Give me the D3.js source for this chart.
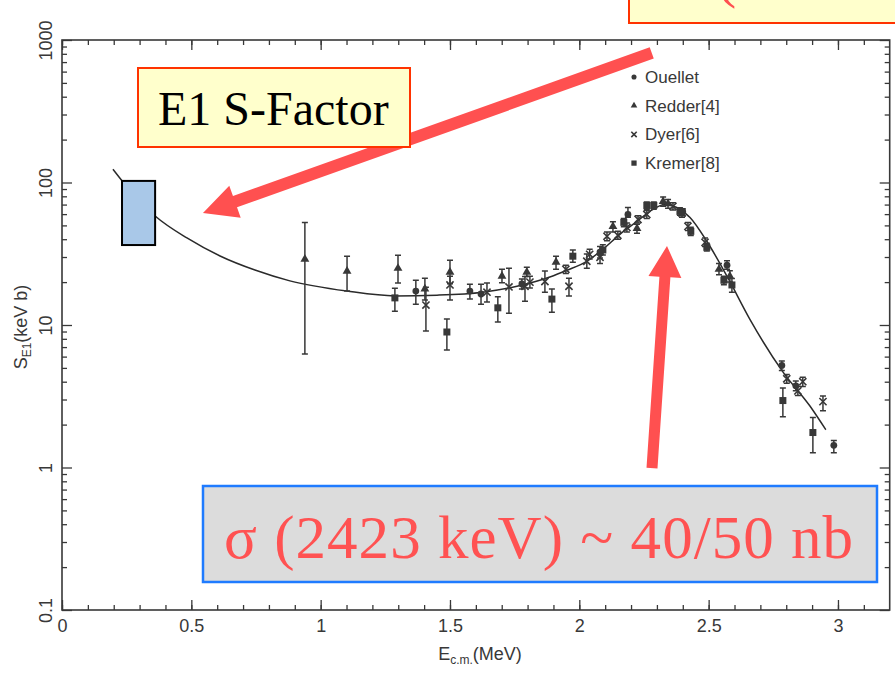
<!DOCTYPE html>
<html>
<head>
<meta charset="utf-8">
<script src="https://cdn.jsdelivr.net/npm/d3@7"></script>
<style>
body{margin:0;background:#fff;}
svg{display:block;}
</style>
</head>
<body>
<svg id="graphique" width="895" height="677"></svg>
<script>
// ticks
var xTicks = [0, 0.5, 1, 1.5, 2, 2.5, 3];
var yTicks = [0.1, 1, 10, 100, 1000];

// fitted S-factor curve (E in MeV, S in keV b)
var fitE = [0.197, 0.278, 0.36, 0.483, 0.611, 0.746, 0.881, 1.102, 1.287, 1.45, 1.627, 1.759, 1.886, 1.952, 2.029, 2.091, 2.157, 2.223, 2.273, 2.331, 2.377, 2.428, 2.493, 2.571, 2.659, 2.787, 2.891, 2.953];
var fitS = [124, 81.7, 58.2, 40.8, 30.5, 24.3, 20.4, 17.3, 16.0, 16.2, 17.0, 18.7, 21.7, 24.2, 28.0, 34.0, 43.3, 53.3, 62.7, 70.2, 66.8, 56.9, 38.7, 22.0, 11.0, 4.69, 2.71, 1.84];

// [E, S, low, high]
var ouellet = [
	[1.368, 17.3, 14.0, 20.6], [1.577, 17.3, 15.2, 19.3], [1.620, 16.5, 14.0, 19.3], [1.778, 19.4, 17.9, 21.0],
	[2.080, 32.5, 29.5, 35.5], [2.188, 59.7, 57, 66.8], [2.400, 62, 58.5, 65.5], [2.571, 26.3, 24.6, 28.2],
	[2.783, 5.2, 4.8, 5.6], [2.837, 3.74, 3.45, 4.05], [2.984, 1.43, 1.27, 1.55]
];
var redder = [
	[0.939, 29.0, 6.27, 52.5], [1.102, 23.9, 17.3, 30.4], [1.299, 25.0, 19.7, 30.9], [1.403, 17.9, 15, 21.3],
	[1.500, 23.5, 19.5, 28.5], [1.701, 22.0, 19.8, 24.6], [1.797, 23.5, 21.9, 25.4], [1.910, 27.6, 24.6, 30.4],
	[2.130, 49.2, 45, 53], [2.223, 47.6, 44, 51], [2.324, 73.6, 68, 79], [2.343, 71, 66, 76],
	[2.540, 24.6, 22.5, 27], [2.582, 22.0, 20, 24]
];
var dyer = [
	[1.407, 13.8, 9.08, 18.4], [1.500, 19.1, 15, 22], [1.643, 17.0, 14.5, 19.7], [1.728, 18.5, 12.1, 25.0],
	[1.790, 18.7, 14.7, 21.9], [1.809, 20.0, 18.2, 22], [1.867, 20.2, 17.0, 23.9], [1.948, 24.6, 23, 26.3],
	[1.960, 18.7, 16.0, 21.3], [2.029, 28.0, 25.0, 31.5], [2.040, 31.3, 29, 34], [2.080, 29.9, 27, 33],
	[2.107, 41.9, 39, 45], [2.149, 42.6, 40, 45.5], [2.184, 48.4, 45, 52], [2.227, 55.1, 52, 58.5],
	[2.261, 59.7, 56, 63.5], [2.362, 68, 64, 72], [2.397, 61, 57, 65], [2.420, 49.2, 46, 52.5],
	[2.486, 38.0, 35.5, 40.8], [2.802, 4.19, 3.9, 4.5], [2.845, 3.45, 3.2, 3.7], [2.864, 4.0, 3.7, 4.3],
	[2.942, 2.90, 2.5, 3.18]
];
var kremer = [
	[1.287, 15.5, 12.5, 18.1], [1.488, 8.93, 6.69, 11.0], [1.685, 13.2, 10.5, 15.8], [1.894, 15.2, 12.3, 17.9],
	[1.975, 30.4, 27.6, 33.6], [2.091, 33.6, 31, 36.5], [2.172, 52.5, 49, 56], [2.261, 69, 65, 73],
	[2.288, 69, 65, 73], [2.389, 62.7, 59, 66.5], [2.431, 45.4, 42.5, 48.5], [2.493, 35.1, 33, 37.5],
	[2.559, 20.6, 19.2, 22], [2.590, 19.1, 17, 21.2], [2.787, 2.95, 2.27, 3.62], [2.903, 1.76, 1.27, 2.24]
];

var legendNames = ["Ouellet", "Redder[4]", "Dyer[6]", "Kremer[8]"];
var legendTypes = ["dot", "tri", "x", "sq"];

// highlighted region [E0, E1, S0, S1] and arrows [E tail, S tail, E tip, S tip]
var boxRegion = [0.232, 0.360, 36.4, 102.6];
var arrowA = [2.28, 811, 0.545, 61];
var arrowB = [2.281, 0.99, 2.339, 35.8];

var graphique = d3.select("#graphique");
var INK = "#383838";
var FONT = "'Liberation Sans', Arial, sans-serif";
var SERIF = "'Liberation Serif', 'Times New Roman', serif";

var xScale = d3.scaleLinear().domain([0, 3.2]).range([62, 889.7]);
var yScale = d3.scaleLog().domain([0.1, 1000]).range([610, 40]);

var L = 62, R = 889.7, T = 40, B = 610;

// minor tick values
var xMinor = d3.range(0, 32).map(function(i){ return i / 10; });
var yMinor = [];
[0.1, 1, 10, 100].forEach(function(dec){
	for(var m = 2; m <= 9; m++){ yMinor.push(dec * m); }
});

function styleAxis(g){
	g.select(".domain").remove();
	g.selectAll("line").attr("stroke", INK).attr("stroke-width", 1.3);
	g.selectAll("text").attr("fill", INK).style("font-family", FONT).style("font-size", "18px");
}

//// axes
graphique.append("g").attr("transform", "translate(0," + B + ")")
	.call(d3.axisBottom(xScale).tickValues(xMinor).tickSizeInner(-5).tickSizeOuter(0).tickFormat(""))
	.call(styleAxis);
graphique.append("g").attr("transform", "translate(0," + B + ")")
	.call(d3.axisBottom(xScale).tickValues(xTicks).tickSizeInner(-10).tickSizeOuter(0).tickPadding(9)
		.tickFormat(function(d){ return String(d); }))
	.call(styleAxis);
graphique.append("g").attr("transform", "translate(0," + T + ")")
	.call(d3.axisTop(xScale).tickValues(xMinor).tickSizeInner(-5).tickSizeOuter(0).tickFormat(""))
	.call(styleAxis);
graphique.append("g").attr("transform", "translate(0," + T + ")")
	.call(d3.axisTop(xScale).tickValues(xTicks).tickSizeInner(-10).tickSizeOuter(0).tickFormat(""))
	.call(styleAxis);

graphique.append("g").attr("transform", "translate(" + L + ",0)")
	.call(d3.axisLeft(yScale).tickValues(yMinor).tickSizeInner(-5).tickSizeOuter(0).tickFormat(""))
	.call(styleAxis);
var yAx = graphique.append("g").attr("transform", "translate(" + L + ",0)")
	.call(d3.axisLeft(yScale).tickValues(yTicks).tickSizeInner(-10).tickSizeOuter(0)
		.tickFormat(function(d){ return d < 1 ? "0.1" : String(d); }))
	.call(styleAxis);
yAx.selectAll("text")
	.attr("x", 0).attr("y", 0).attr("dy", null)
	.attr("text-anchor", "middle")
	.attr("transform", "translate(-10,0) rotate(-90)");
graphique.append("g").attr("transform", "translate(" + R + ",0)")
	.call(d3.axisRight(yScale).tickValues(yMinor).tickSizeInner(-5).tickSizeOuter(0).tickFormat(""))
	.call(styleAxis);
graphique.append("g").attr("transform", "translate(" + R + ",0)")
	.call(d3.axisRight(yScale).tickValues(yTicks).tickSizeInner(-10).tickSizeOuter(0).tickFormat(""))
	.call(styleAxis);

// frame
graphique.append("rect")
	.attr("x", L).attr("y", T).attr("width", R - L).attr("height", B - T)
	.attr("fill", "none").attr("stroke", INK).attr("stroke-width", 1.6);

// axis titles
var xt = graphique.append("text").attr("x", 480).attr("y", 660).attr("text-anchor", "middle")
	.attr("fill", INK).style("font-family", FONT).style("font-size", "18px");
xt.append("tspan").text("E");
xt.append("tspan").attr("dy", 4).style("font-size", "12px").text("c.m.");
xt.append("tspan").attr("dy", -4).text("(MeV)");

var yt = graphique.append("text").attr("text-anchor", "middle")
	.attr("transform", "translate(27,327) rotate(-90)")
	.attr("fill", INK).style("font-family", FONT).style("font-size", "18px");
yt.append("tspan").text("S");
yt.append("tspan").attr("dy", 4).style("font-size", "12px").text("E1");
yt.append("tspan").attr("dy", -4).text("(keV b)");

//// fit curve
var fitPts = fitE.map(function(e, i){ return [e, fitS[i]]; });
var line = d3.line()
	.x(function(d){ return xScale(d[0]); })
	.y(function(d){ return yScale(d[1]); })
	.curve(d3.curveMonotoneX);
graphique.append("path")
	.attr("d", line(fitPts))
	.attr("fill", "none").attr("stroke", "#2a2a2a").attr("stroke-width", 1.5);

//// markers
function drawMarker(g, type, x, y, s){
	if(type == "dot"){
		g.append("circle").attr("cx", x).attr("cy", y).attr("r", 3.4 * s).attr("fill", INK);
	} else if(type == "sq"){
		g.append("rect").attr("x", x - 3.5 * s).attr("y", y - 3.5 * s)
			.attr("width", 7 * s).attr("height", 7 * s).attr("fill", INK);
	} else if(type == "tri"){
		g.append("path").attr("transform", "translate(" + x + "," + y + ")")
			.attr("d", d3.symbol().type(d3.symbolTriangle).size(34 * s * s)()).attr("fill", INK);
	} else {
		var h = 3.6 * s;
		g.append("path")
			.attr("d", "M" + (x - h) + "," + (y - h) + "L" + (x + h) + "," + (y + h) +
				"M" + (x - h) + "," + (y + h) + "L" + (x + h) + "," + (y - h))
			.attr("stroke", INK).attr("stroke-width", 1.6).attr("fill", "none");
	}
}

function drawSeries(points, type){
	var g = graphique.append("g");
	points.forEach(function(p){
		var x = xScale(p[0]);
		var yl = yScale(p[2]), yh = yScale(p[3]);
		g.append("path")
			.attr("d", "M" + x + "," + yl + "V" + yh +
				"M" + (x - 3) + "," + yl + "H" + (x + 3) +
				"M" + (x - 3) + "," + yh + "H" + (x + 3))
			.attr("stroke", INK).attr("stroke-width", 1.5).attr("fill", "none");
		drawMarker(g, type, x, yScale(p[1]), 1);
	});
}
drawSeries(redder, "tri");
drawSeries(dyer, "x");
drawSeries(kremer, "sq");
drawSeries(ouellet, "dot");

//// legend
legendNames.forEach(function(name, i){
	var y = 77 + i * 28.7;
	drawMarker(graphique, legendTypes[i], 634, y, 0.75);
	graphique.append("text").attr("x", 645).attr("y", y + 6)
		.attr("fill", INK).style("font-family", FONT).style("font-size", "17px")
		.text(name);
});

//// slide annotations
function drawArrow(a, shaftW, headW, headL){
	var x1 = xScale(a[0]), y1 = yScale(a[1]), x2 = xScale(a[2]), y2 = yScale(a[3]);
	var dx = x2 - x1, dy = y2 - y1, len = Math.sqrt(dx * dx + dy * dy);
	var ux = dx / len, uy = dy / len, px = -uy, py = ux;
	var bx = x2 - ux * headL, by = y2 - uy * headL;
	var pts = [
		[x1 + px * shaftW / 2, y1 + py * shaftW / 2],
		[bx + px * shaftW / 2, by + py * shaftW / 2],
		[bx + px * headW / 2, by + py * headW / 2],
		[x2, y2],
		[bx - px * headW / 2, by - py * headW / 2],
		[bx - px * shaftW / 2, by - py * shaftW / 2],
		[x1 - px * shaftW / 2, y1 - py * shaftW / 2]
	];
	graphique.append("polygon")
		.attr("points", pts.map(function(p){ return p.join(","); }).join(" "))
		.attr("fill", "#ff5050");
}

graphique.append("rect")
	.attr("x", xScale(boxRegion[0])).attr("y", yScale(boxRegion[3]))
	.attr("width", xScale(boxRegion[1]) - xScale(boxRegion[0]))
	.attr("height", yScale(boxRegion[2]) - yScale(boxRegion[3]))
	.attr("fill", "#a9c8e8").attr("stroke", "#000").attr("stroke-width", 2);

drawArrow(arrowA, 12, 34, 34);
drawArrow(arrowB, 11, 33, 31);

// E1 S-Factor label
graphique.append("rect").attr("x", 138).attr("y", 68).attr("width", 272).attr("height", 79)
	.attr("fill", "#ffffcc").attr("stroke", "#ff3300").attr("stroke-width", 2);
graphique.append("text").attr("x", 158).attr("y", 125)
	.attr("fill", "#000").style("font-family", SERIF).style("font-size", "48px")
	.text("E1 S-Factor");

// box cut off at the top
graphique.append("rect").attr("x", 629).attr("y", -10).attr("width", 300).attr("height", 33)
	.attr("fill", "#ffffcc").attr("stroke", "#ff3300").attr("stroke-width", 2);
graphique.append("text").attr("x", 669).attr("y", -4)
	.attr("fill", "#ff5050").style("font-family", SERIF).style("font-size", "60px")
	.text("σ (1000 keV)");

// cross-section label
graphique.append("rect").attr("x", 203).attr("y", 486).attr("width", 674).attr("height", 96)
	.attr("fill", "#dcdcdc").attr("stroke", "#1f7bff").attr("stroke-width", 2.5);
graphique.append("text").attr("x", 224).attr("y", 558)
	.attr("textLength", 629).attr("lengthAdjust", "spacing")
	.attr("fill", "#ff5252").style("font-family", SERIF).style("font-size", "61px")
	.text("σ (2423 keV) ~ 40/50 nb");
</script>
</body>
</html>
